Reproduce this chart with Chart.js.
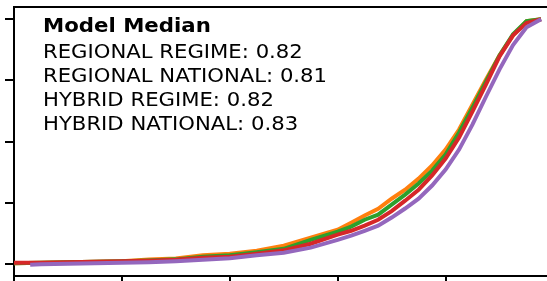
<!DOCTYPE html>
<html>
<head>
<meta charset="utf-8">
<script src="https://cdn.jsdelivr.net/npm/chart.js@4/dist/chart.umd.min.js"></script>
<style>
  html, body { margin: 0; padding: 0; background: #fff; overflow: hidden; }
  #wrap { position: relative; width: 547px; height: 281px; }
  .note { position: absolute; left: 43px; font-family: "DejaVu Sans", sans-serif; color: #000;
          white-space: nowrap; transform-origin: left top; line-height: 24px; }
  .note.title { font-weight: bold; font-size: 19px; transform: scaleX(1.12); }
  .note.row { font-size: 19px; transform: scaleX(1.115); }
</style>
</head>
<body>
<div id="wrap">
  <canvas id="cdf" width="547" height="281"></canvas>
  <div class="note title" style="top:13px">Model Median</div>
  <div class="note row" style="top:39px">REGIONAL REGIME: 0.82</div>
  <div class="note row" style="top:63px">REGIONAL NATIONAL: 0.81</div>
  <div class="note row" style="top:87px">HYBRID REGIME: 0.82</div>
  <div class="note row" style="top:111px">HYBRID NATIONAL: 0.83</div>
</div>
<script>
// shared x positions (fraction of runs, sorted)
const xValues = [0, 0.05, 0.1, 0.15, 0.2, 0.25, 0.3, 0.35, 0.4, 0.45, 0.5, 0.55, 0.6, 0.625, 0.65,
  0.675, 0.7, 0.725, 0.75, 0.775, 0.8, 0.825, 0.85, 0.875, 0.9, 0.925, 0.95, 0.977];
const xPurple = [0.03, 0.05, 0.1, 0.15, 0.2, 0.25, 0.3, 0.35, 0.4, 0.45, 0.5, 0.55, 0.6, 0.625, 0.65,
  0.675, 0.7, 0.725, 0.75, 0.775, 0.8, 0.825, 0.85, 0.875, 0.9, 0.925, 0.95, 0.977];

const regionalRegime = [0.002, 0.004, 0.006, 0.008, 0.010, 0.017, 0.022, 0.035, 0.041, 0.053, 0.074, 0.107, 0.139, 0.168,
  0.197, 0.225, 0.266, 0.303, 0.348, 0.402, 0.467, 0.549, 0.652, 0.754, 0.852, 0.934, 0.992, 1.0];
const regionalNational = [0.002, 0.004, 0.006, 0.008, 0.010, 0.013, 0.018, 0.029, 0.035, 0.047, 0.061, 0.098, 0.131, 0.152,
  0.180, 0.201, 0.242, 0.283, 0.328, 0.381, 0.447, 0.537, 0.639, 0.746, 0.852, 0.938, 0.992, 1.0];
const hybridRegime = [0.004, 0.004, 0.006, 0.008, 0.010, 0.012, 0.016, 0.025, 0.029, 0.041, 0.055, 0.082, 0.119, 0.135,
  0.156, 0.180, 0.215, 0.258, 0.303, 0.361, 0.430, 0.516, 0.623, 0.734, 0.848, 0.934, 0.984, 1.0];
const hybridNational = [-0.004, -0.002, 0.0, 0.002, 0.004, 0.006, 0.010, 0.016, 0.023, 0.035, 0.045, 0.066, 0.098, 0.115,
  0.135, 0.156, 0.189, 0.226, 0.266, 0.320, 0.385, 0.467, 0.570, 0.684, 0.795, 0.894, 0.967, 1.0];

const xTickStep = 0.2;
const yTickStep = 0.25;

const toPoints = (xs, ys) => xs.map((x, i) => ({ x: x, y: ys[i] }));

const series = [
  { label: 'REGIONAL REGIME', xs: xValues, ys: regionalRegime, color: '#ff7f0e', order: 4 },
  { label: 'REGIONAL NATIONAL', xs: xValues, ys: regionalNational, color: '#2ca02c', order: 3 },
  { label: 'HYBRID REGIME', xs: xValues, ys: hybridRegime, color: '#d62728', order: 2 },
  { label: 'HYBRID NATIONAL', xs: xPurple, ys: hybridNational, color: '#9467bd', order: 1 }
];

new Chart(document.getElementById('cdf').getContext('2d'), {
  type: 'line',
  data: {
    datasets: series.map(s => ({
      label: s.label,
      data: toPoints(s.xs, s.ys),
      borderColor: s.color,
      backgroundColor: s.color,
      borderWidth: 4,
      pointRadius: 0,
      tension: 0,
      fill: false,
      order: s.order
    }))
  },
  options: {
    responsive: false,
    animation: false,
    devicePixelRatio: 1,
    layout: { padding: { top: 7, left: 5, right: 0, bottom: 0 } },
    plugins: { legend: { display: false }, tooltip: { enabled: false } },
    scales: {
      x: {
        type: 'linear', position: 'bottom', min: 0, max: 0.988,
        ticks: { display: false, stepSize: xTickStep, includeBounds: false },
        grid: { drawOnChartArea: false, drawTicks: true, tickLength: 5, color: '#000', lineWidth: 2 },
        border: { display: true, color: '#000', width: 2 }
      },
      x2: {
        type: 'linear', position: 'top', display: true, min: 0, max: 0.988,
        ticks: { display: false },
        grid: { display: false, drawTicks: false },
        border: { display: true, color: '#000', width: 2 }
      },
      y: {
        type: 'linear', position: 'left', min: -0.05, max: 1.05,
        ticks: { display: false, stepSize: yTickStep, includeBounds: false },
        grid: { drawOnChartArea: false, drawTicks: true, tickLength: 9, color: '#000', lineWidth: 2 },
        border: { display: true, color: '#000', width: 2 }
      }
    }
  }
});
</script>
</body>
</html>
